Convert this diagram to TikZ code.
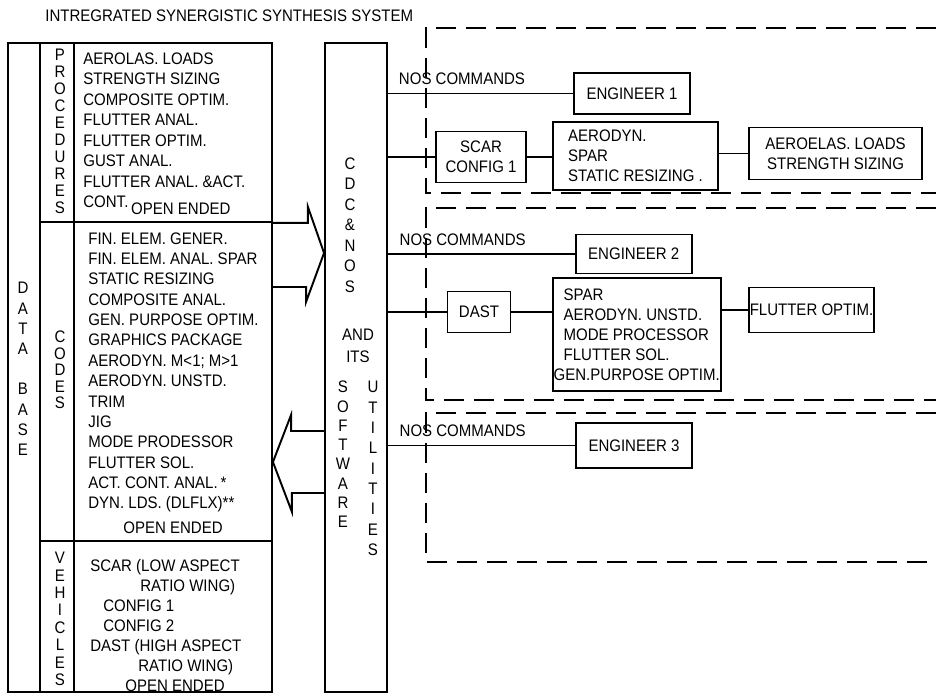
\documentclass[tikz,border=0pt]{standalone}
\usepackage{fontspec}
\setmainfont{Liberation Sans}[FakeStretch=0.9]
\usetikzlibrary{positioning}

\begin{document}
\begin{tikzpicture}[
        x=0.02cm,
        y=-0.02cm,
        box/.style={draw, line width=1.1pt, inner sep=0pt},
        wire/.style={line width=1pt},
        grp/.style={line width=0.9pt, dash pattern=on 0.4cm off 0.2cm},
        bigarrow/.style={line width=1.1pt, line join=miter},
        stack/.style={align=center, inner sep=0pt, font=\fontsize{9.5}{#1}\selectfont},
        list/.style={align=left, inner sep=0pt, anchor=north west, font=\fontsize{9.5}{#1}\selectfont},
        txt/.style={align=center, font=\fontsize{9.5}{#1}\selectfont},
        txt/.default=11.4pt,
        cmd/.style={font=\fontsize{9.5}{11}\selectfont, inner sep=0pt, above=4.5pt, pos=0.4}
    ]
        \useasboundingbox (0,0) rectangle (936,695);

        \node[anchor=west, inner sep=0pt, font=\fontsize{9.5}{12}\selectfont] (title) at (45,16)
            {INTREGRATED SYNERGISTIC SYNTHESIS SYSTEM};

        % data base column
        \node[box, minimum width=0.64cm, minimum height=12.98cm] (dbcol) at (24,367.5) {};
        \node[box, minimum width=0.68cm, minimum height=3.58cm] (proclbl) at (57,132.5) {};
        \node[box, minimum width=3.96cm, minimum height=3.58cm] (procbox) at (173,132.5) {};
        \node[box, minimum width=0.68cm, minimum height=6.38cm] (codelbl) at (57,381.5) {};
        \node[box, minimum width=3.96cm, minimum height=6.38cm] (codebox) at (173,381.5) {};
        \node[box, minimum width=0.68cm, minimum height=3.02cm] (vehlbl) at (57,616.5) {};
        \node[box, minimum width=3.96cm, minimum height=3.02cm] (vehbox) at (173,616.5) {};

        \node[stack=11.5pt] (dbtxt) at (23,369) {D\\A\\T\\A\\[11.5pt]B\\A\\S\\E};
        \node[stack=9.65pt] (proctxt) at (60,131.5) {P\\R\\O\\C\\E\\D\\U\\R\\E\\S};
        \node[stack=9.4pt] (codetxt) at (60,370) {C\\O\\D\\E\\S};
        \node[stack=9.9pt] (vehtxt) at (60,619) {V\\E\\H\\I\\C\\L\\E\\S};

        \node[list=11.7pt] (proclist) at (83,52) {AEROLAS. LOADS\\STRENGTH SIZING\\COMPOSITE OPTIM.\\FLUTTER ANAL.\\FLUTTER OPTIM.\\GUST ANAL.\\FLUTTER ANAL. \&ACT.\\CONT.\,\raisebox{-4pt}{OPEN ENDED}};
        \node[list=11.6pt] (codelist) at (88,232) {FIN. ELEM. GENER.\\FIN. ELEM. ANAL. SPAR\\STATIC RESIZING\\COMPOSITE ANAL.\\GEN. PURPOSE OPTIM.\\GRAPHICS PACKAGE\\AERODYN. M<1; M>1\\AERODYN. UNSTD.\\TRIM\\JIG\\MODE PRODESSOR\\FLUTTER SOL.\\ACT. CONT. ANAL.\,*\\DYN. LDS. (DLFLX)**\\[2.6pt]\hspace*{0.7cm}OPEN ENDED};
        \node[list=11.4pt] (vehlist) at (90,559) {SCAR (LOW ASPECT\\\hspace*{1cm}RATIO WING)\\\hspace*{0.26cm}CONFIG 1\\\hspace*{0.26cm}CONFIG 2\\DAST (HIGH ASPECT\\\hspace*{0.96cm}RATIO WING)\\\hspace*{0.7cm}OPEN ENDED};

        % cdc & nos
        \node[box, minimum width=1.24cm, minimum height=12.98cm] (cdc) at (356,367.5) {};
        \node[stack=11.7pt] (cdctxt) at (350,225) {C\\D\\C\\\&\\N\\O\\S};
        \node[stack=12.5pt] (andtxt) at (358,346) {AND\\ITS};
        \node[stack=11pt] (swtxt) at (343,454.5) {S\\O\\F\\T\\W\\A\\R\\E};
        \node[stack=11.6pt] (uttxt) at (373,468.5) {U\\T\\I\\L\\I\\T\\I\\E\\S};

        \draw[bigarrow] (procbox.south east) -- ++(35,0) -- ++(0,-16) -- (cdc.west |- 0,253)
            -- ++(-18,49) -- ++(0,-15) -- (codebox.east |- 0,287);
        \draw[bigarrow] (cdc.west |- 0,431) -- ++(-33,0) -- ++(0,-16) -- (codebox.east |- 0,462)
            -- ++(19,50) -- ++(0,-19) -- (cdc.west |- 0,493);

        % engineer 1
        \draw[grp] (936,28) -- (426,28) -- (426,193) -- (936,193);
        \node[box, minimum width=2.32cm, minimum height=0.82cm, txt] (eng1) at (632,93.5) {ENGINEER 1};
        \node[box, minimum width=1.8cm, minimum height=1.02cm, txt] (scar) at (481,157) {SCAR\\CONFIG 1};
        \node[box, minimum width=3.3cm, minimum height=1.36cm, align=left, font=\fontsize{9.5}{11.4}\selectfont] (aero1) at (635.5,156) {AERODYN.\\SPAR\\STATIC RESIZING .};
        \node[box, minimum width=3.46cm, minimum height=1.04cm, txt] (loads1) at (835.5,153.5) {AEROELAS. LOADS\\STRENGTH SIZING};

        \draw[wire] (cdc.east |- eng1) -- node[cmd] (nos1) {NOS COMMANDS} (eng1);
        \draw[wire] (cdc.east |- scar) -- (scar);
        \draw[wire] (scar) -- (scar -| aero1.west);
        \draw[wire] (aero1.east |- loads1) -- (loads1);

        % engineer 2
        \draw[grp] (936,208) -- (426,208) -- (426,400) -- (936,400);
        \node[box, minimum width=2.32cm, minimum height=0.78cm, txt] (eng2) at (633.7,254) {ENGINEER 2};
        \node[box, minimum width=1.26cm, minimum height=0.82cm, txt] (dast) at (479,312) {DAST};
        \node[box, minimum width=3.36cm, minimum height=2.26cm, align=left, font=\fontsize{9.5}{11.4}\selectfont] (spar) at (636.7,334.7) {\hspace*{0.2cm}SPAR\\\hspace*{0.2cm}AERODYN. UNSTD.\\\hspace*{0.2cm}MODE PROCESSOR\\\hspace*{0.2cm}FLUTTER SOL.\\GEN.PURPOSE OPTIM.};
        \node[box, minimum width=2.5cm, minimum height=0.9cm, txt] (flut) at (811.5,310) {FLUTTER OPTIM.};

        \draw[wire] (cdc.east |- eng2) -- node[cmd] (nos2) {NOS COMMANDS} (eng2);
        \draw[wire] (cdc.east |- dast) -- (dast);
        \draw[wire] (dast) -- (dast -| spar.west);
        \draw[wire] (spar.east |- flut) -- (flut);

        % engineer 3
        \draw[grp] (936,413) -- (426,413) -- (426,562) -- (936,562);
        \node[box, minimum width=2.33cm, minimum height=0.9cm, txt] (eng3) at (634,445.5) {ENGINEER 3};

        \draw[wire] (cdc.east |- eng3) -- node[cmd] (nos3) {NOS COMMANDS} (eng3);
    \end{tikzpicture}
\end{document}
